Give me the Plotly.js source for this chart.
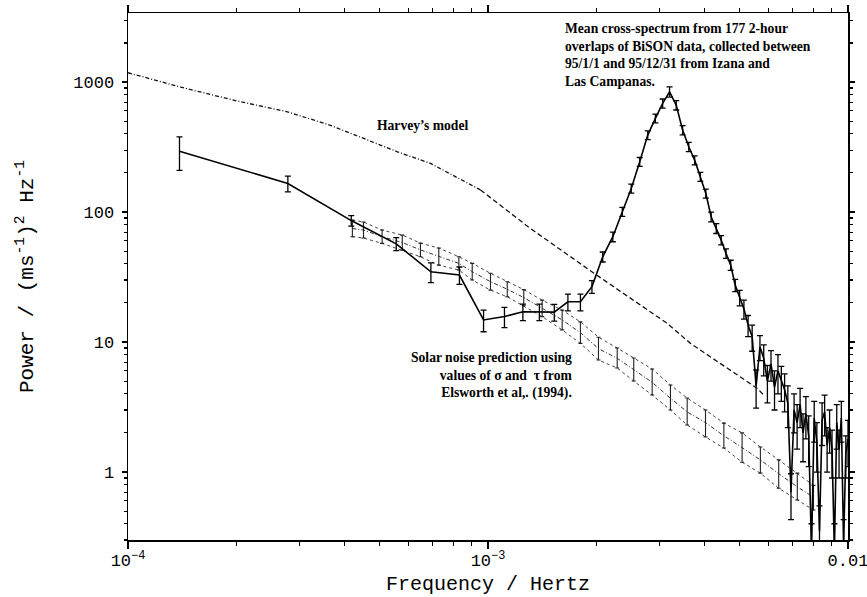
<!DOCTYPE html>
<html>
<head>
<meta charset="utf-8">
<script src="https://cdn.plot.ly/plotly-3.0.1.min.js"></script>
<style>html,body{margin:0;padding:0;background:#fff;}#chart{width:867px;height:597px;}</style>
</head>
<body>
<div id="chart"></div>
<script>
// ---- Data ----
// Mean cross-spectrum: frequency (mHz), power, error
const dataFreqMHz = [0.139,0.278,0.417,0.556,0.694,0.833,0.972,1.111,1.250,1.389,1.528,1.667,1.806,1.944,2.083,2.222,2.361,2.500,2.639,2.778,2.917,3.056,3.194,3.333,3.472,3.611,3.750,3.889,4.028,4.167,4.306,4.444,4.583,4.722,4.861,5.000,5.139,5.278,5.417,5.556,5.694,5.833,5.972,6.111,6.250,6.389,6.528,6.667,6.806,6.944,7.083,7.222,7.361,7.500,7.639,7.778,7.917,8.056,8.194,8.333,8.472,8.611,8.750,8.889,9.028,9.167,9.306,9.444,9.583,9.722,9.861,10.000];
const dataPower = [294,166,86,57,34.7,32.8,14.8,15.7,17.1,17.1,17.0,20.4,20.4,26.7,45.3,64.6,100.6,152,244,391,526,686,842,665,427,318,251,187,139,92,74.9,60.9,48.1,39.1,27.4,22,18,13.5,11,4.6,9.2,7.5,5.0,6.8,4.5,6.0,5.0,4.3,3.4,0.7,3.0,2.4,3.3,2.0,2.8,1.9,0.25,2.6,1.7,0.35,2.5,2.9,1.6,2.2,1.5,0.25,2.4,1.5,2.6,0.28,1.4,1.8];
const dataErr = [85,23,8,6.5,6,5,2.8,2.8,2.5,2.5,2.5,3,3,3,4,5.5,8,12,19,30,40,55,75,55,35,26,20,15,11,8,6.5,5,4,3.5,3,3,3,2.5,2.5,1.5,2,2,1.6,1.8,1.5,2,1.5,1.4,1.2,0.27,1,0.9,1.1,0.8,1,0.8,0.15,0.9,0.7,0.2,0.9,1,0.6,0.8,0.6,0.15,0.9,0.6,0.9,0.15,0.5,0.7];

// Harvey's model (low-frequency part drawn dash-dot, high-frequency part dashed)
const harveyLowFreqMHz = [0.100,0.140,0.200,0.277,0.365,0.560,0.692,0.953];
const harveyLowPower = [1180,915,718,591,465,291,237,148];
const harveyHighFreqMHz = [0.953,1.31,1.97,3.15,3.65,5.60,5.83];
const harveyHighPower = [148,75,33.8,13.9,9.77,4.4,3.91];

// Solar noise prediction band
const bandFreqMHz = [0.420,0.451,0.508,0.578,0.649,0.730,0.830,0.904,1.016,1.131,1.257,1.414,1.607,1.806,2.027,2.285,2.54,2.858,3.212,3.575,4.02,4.52,5.08,5.71,6.42,7.23,8.02];
const bandUpper = [86.8,83.8,72.7,66.5,57.7,52.9,45.3,40.3,33.8,29.1,25.3,21.0,17.6,14.3,10.9,8.99,7.53,6.20,4.67,3.71,3.00,2.38,2.0,1.56,1.24,0.98,0.79];
const bandMid   = [74.8,72.7,64.6,58.3,51.2,45.5,40.3,34.8,29.1,25.5,22.0,18.2,14.8,11.8,8.9,7.5,6.1,4.9,3.7,2.9,2.4,1.9,1.54,1.24,0.97,0.77,0.64];
const bandLower = [64.6,63.1,57.4,51.0,45.3,39.1,35.8,30.0,25.1,22.3,19.0,15.7,12.4,9.77,7.27,6.31,5.01,3.91,3.00,2.30,1.86,1.53,1.19,0.98,0.75,0.61,0.51];

// Ticks
const xMajorVals = [1e-4, 1e-3, 1e-2];
const xMajorText = ['10<sup>−4</sup>', '10<sup>−3</sup>', '0.01'];
const xMinorVals = [2e-4,3e-4,4e-4,5e-4,6e-4,7e-4,8e-4,9e-4,2e-3,3e-3,4e-3,5e-3,6e-3,7e-3,8e-3,9e-3];
const yMajorVals = [1, 10, 100, 1000];
const yMajorText = ['1', '10', '100', '1000'];
const yMinorVals = [0.3,0.4,0.5,0.6,0.7,0.8,0.9,2,3,4,5,6,7,8,9,20,30,40,50,60,70,80,90,200,300,400,500,600,700,800,900,2000,3000];

// ---- Build ----
const toHz = a => a.map(v => v * 1e-3);
const bandX = toHz(bandFreqMHz);

const traces = [
  {x: bandX, y: bandUpper, mode: 'lines', line: {color: '#444', width: 1, dash: 'dot'}},
  {x: bandX, y: bandLower, mode: 'lines', line: {color: '#444', width: 1, dash: 'dot'}},
  {x: bandX, y: bandMid, mode: 'lines', line: {color: '#333', width: 1, dash: '4px,2px,1px,2px'},
   error_y: {type: 'data', symmetric: false,
             array: bandUpper.map((u, i) => u - bandMid[i]),
             arrayminus: bandLower.map((l, i) => bandMid[i] - l),
             color: '#222', thickness: 1.1, width: 2}},
  {x: toHz(harveyLowFreqMHz), y: harveyLowPower, mode: 'lines', line: {color: '#111', width: 1.3, dash: '4px,2px,1px,2px'}},
  {x: toHz(harveyHighFreqMHz), y: harveyHighPower, mode: 'lines', line: {color: '#111', width: 1.3, dash: '5px,3px'}},
  {x: toHz(dataFreqMHz), y: dataPower, mode: 'lines', line: {color: '#000', width: 1.6},
   error_y: {type: 'data', array: dataErr, color: '#000', thickness: 1.3, width: 3}},
  // invisible trace to carry the overlay axes that draw the long major ticks
  {x: [1e-3], y: [1], xaxis: 'x2', yaxis: 'y2', mode: 'markers', marker: {opacity: 0}, hoverinfo: 'skip'}
];

const mono = 'Liberation Mono, Courier New, monospace';
const serif = 'Liberation Serif, Times New Roman, serif';
const xRange = [-4, -2];
const yRange = [Math.log10(0.3), Math.log10(3400)];

const allXVals = xMajorVals.concat(xMinorVals);
const allXText = xMajorText.concat(xMinorVals.map(() => ''));
const allYVals = yMajorVals.concat(yMinorVals);
const allYText = yMajorText.concat(yMinorVals.map(() => ''));

const layout = {
  width: 867, height: 597,
  margin: {l: 128, r: 19, t: 13, b: 57},
  paper_bgcolor: '#fff', plot_bgcolor: '#fff',
  showlegend: false,
  xaxis: {
    type: 'log', range: xRange, autorange: false,
    showline: true, linecolor: '#000', linewidth: 1.5, mirror: 'allticks',
    ticks: 'outside', ticklen: 4, tickwidth: 1.1, tickcolor: '#000',
    tickmode: 'array', tickvals: allXVals, ticktext: allXText,
    ticklabeloverflow: 'allow',
    tickfont: {family: mono, size: 17, color: '#000'},
    showgrid: false, zeroline: false,
    title: {text: 'Frequency / Hertz', font: {family: mono, size: 20, color: '#000'}, standoff: 6}
  },
  yaxis: {
    type: 'log', range: yRange, autorange: false,
    showline: true, linecolor: '#000', linewidth: 1.5, mirror: 'allticks',
    ticks: 'outside', ticklen: 3, tickwidth: 1.1, tickcolor: '#000',
    tickmode: 'array', tickvals: allYVals, ticktext: allYText,
    ticklabelstandoff: 6,
    tickfont: {family: mono, size: 17, color: '#000'},
    showgrid: false, zeroline: false,
    title: {text: 'Power / (ms<sup>-1</sup>)<sup>2</sup> Hz<sup>-1</sup>', font: {family: mono, size: 21, color: '#000'}, standoff: 34}
  },
  xaxis2: {
    type: 'log', range: xRange, autorange: false, overlaying: 'x', anchor: 'y2', side: 'bottom',
    showline: true, linecolor: '#000', linewidth: 1.5, mirror: 'allticks',
    ticks: 'outside', ticklen: 7, tickwidth: 1.3, tickcolor: '#000',
    tickmode: 'array', tickvals: xMajorVals, showticklabels: false,
    showgrid: false, zeroline: false
  },
  yaxis2: {
    type: 'log', range: yRange, autorange: false, overlaying: 'y', anchor: 'x2', side: 'left',
    showline: true, linecolor: '#000', linewidth: 1.5, mirror: 'allticks',
    ticks: 'outside', ticklen: 5, tickwidth: 1.3, tickcolor: '#000',
    tickmode: 'array', tickvals: yMajorVals, showticklabels: false,
    showgrid: false, zeroline: false
  },
  annotations: [
    {xref: 'paper', yref: 'paper', x: 0.604, y: 0.9886, xanchor: 'left', yanchor: 'top', align: 'left', showarrow: false,
     font: {family: serif, size: 13.6, color: '#000'},
     text: '<b>Mean cross-spectrum from 177 2-hour<br>overlaps of BiSON data, collected between<br>95/1/1 and 95/12/31 from Izana and<br>Las Campanas.</b>'},
    {xref: 'paper', yref: 'paper', x: 0.409, y: 0.7856, xanchor: 'center', yanchor: 'middle', showarrow: false,
     font: {family: serif, size: 13.6, color: '#000'},
     text: '<b>Harvey’s model</b>'},
    {xref: 'paper', yref: 'paper', x: 0.619, y: 0.313, xanchor: 'right', yanchor: 'middle', align: 'right', showarrow: false,
     font: {family: serif, size: 13.6, color: '#000'},
     text: '<b>Solar noise prediction using<br>values of σ and  τ from<br>Elsworth et al,. (1994).</b>'}
  ]
};

Plotly.newPlot('chart', traces, layout, {staticPlot: true, displayModeBar: false});
</script>
</body>
</html>
